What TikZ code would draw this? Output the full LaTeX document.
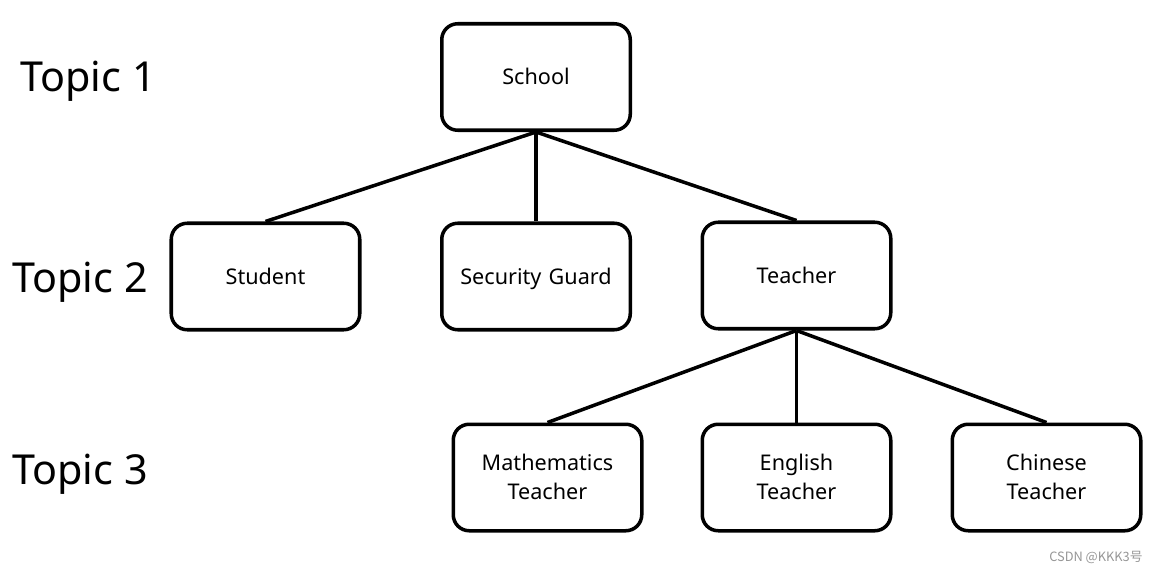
\documentclass[tikz,border=0pt]{standalone}
\usepackage{fontspec}
\setmainfont{Noto Sans}
\newfontfamily\cjkfont{Noto Sans CJK SC}
\usepackage{tikz}
\usepackage{xcolor}
\usetikzlibrary{positioning, calc}
\definecolor{linecolor}{RGB}{0,0,0}
\definecolor{markcolor}{RGB}{150,150,150}
\newcommand{\boxstrut}{\rule[-3pt]{0pt}{15pt}}
\tikzstyle{block} = [rectangle, draw=linecolor, line width=2pt, text width=3.4cm, align=center, minimum width=3.77cm, minimum height=2.13cm, rounded corners=0.32cm, font=\fontsize{12.3}{16.5}\selectfont, execute at begin node=\boxstrut, execute at end node=\boxstrut]
\tikzstyle{topic} = [font=\fontsize{23.5}{28}\selectfont, anchor=west, inner sep=0pt]
\tikzstyle{link} = [line width=2pt, color=linecolor]

\begin{document}
\begin{tikzpicture}
    \useasboundingbox (0, 0) rectangle (23.16, -11.46);
    % Topic labels
    \node[topic] (topic1) at (0.40, -1.62) {Topic 1};
    \node[topic] (topic2) at (0.24, -5.64) {Topic 2};
    \node[topic] (topic3) at (0.24, -9.48) {Topic 3};

    % Level 1
    \node[block] (school) at (10.72, -1.54) {School};

    % Level 2
    \node[block] (student) at (5.31, -5.53) {Student};
    \node[block] (guard) at (10.72, -5.53) {Security Guard};
    \node[block] (teacher) at (15.93, -5.51) {Teacher};

    % Level 3
    \node[block] (math) at (10.95, -9.55) {Mathematics\\Teacher};
    \node[block] (english) at (15.93, -9.55) {English\\Teacher};
    \node[block] (chinese) at (20.93, -9.55) {Chinese\\Teacher};

    % Links
    \draw[link] (school.south) -- (student.north);
    \draw[link] (school.south) -- (guard.north);
    \draw[link] (school.south) -- (teacher.north);
    \draw[link] (teacher.south) -- (math.north);
    \draw[link] (teacher.south) -- (english.north);
    \draw[link] (teacher.south) -- (chinese.north);

    % Watermark
    \node[font=\cjkfont\fontsize{7.3}{8}\selectfont, color=markcolor, anchor=east, inner sep=0pt] (mark) at (22.86, -11.14) {CSDN @KKK3号};
\end{tikzpicture}
\end{document}
